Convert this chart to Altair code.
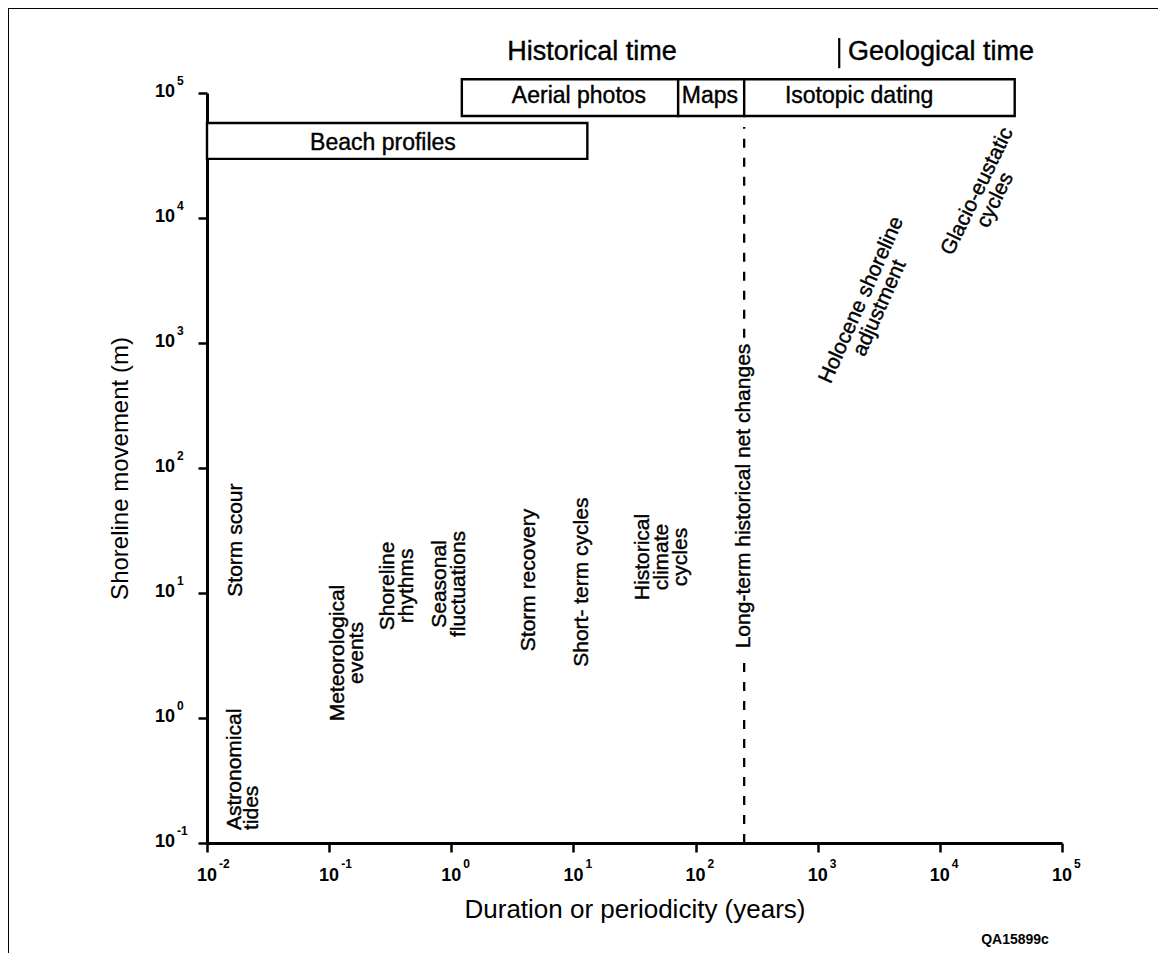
import altair as alt
import pandas as pd

FONT = "Liberation Sans"

# ---- axis ticks ----
x_tick_vals = [1e-2, 1e-1, 1e0, 1e1, 1e2, 1e3, 1e4, 1e5]
x_tick_exps = ["-2", "-1", "0", "1", "2", "3", "4", "5"]
y_tick_vals = [1e-1, 1e0, 1e1, 1e2, 1e3, 1e4, 1e5]
y_tick_exps = ["-1", "0", "1", "2", "3", "4", "5"]

# ---- method boxes ----
box_names = ["Beach profiles", "Aerial photos", "Maps", "Isotopic dating"]
box_x_start = [0.01, 1.22, 72, 250]
box_x_end = [13, 72, 250, 41000]
box_y_low = [29700, 65500, 65500, 65500]
box_y_high = [57500, 129000, 129000, 129000]
box_label_x = [0.276, 11.1, 131, 2180]
box_label_y = [35000, 83000, 83000, 83000]

# ---- vertical process labels (reading upward, centred; anchor = first line) ----
proc_text = ["Storm scour", "Meteorological\nevents", "Shoreline\nrhythms",
             "Seasonal\nfluctuations", "Storm recovery", "Short- term cycles",
             "Historical\nclimate\ncycles", "Long-term historical net changes"]
proc_x = [0.01727, 0.1182, 0.3034, 0.808, 4.33, 11.7, 37.2, 250]
proc_y = [26.5, 3.31, 11.4, 11.8, 12.7, 12.2, 19.4, 59.7]

# bottom-anchored label
astro_text = ["Astronomical\ntides"]
astro_x = [0.01694]
astro_y = [0.127]

# diagonal labels (anchor = first line centre)
holo_text = ["Holocene shoreline\nadjustment"]
holo_x = [2285]
holo_y = [2208]
glacio_text = ["Glacio-eustatic\ncycles"]
glacio_x = [20300]
glacio_y = [16300]

# long-term dashed line (period ~250 yr), split around its label
dash_x = [250, 250]
dash_y_low = [0.1, 1100]
dash_y_high = [2.9, 53500]

# time headings
head_text = ["Historical time", "Geological time"]
head_x = [14.2, 10230]
head_y = [184000, 184000]
sep_x = [1500]
sep_y_low = [158000]
sep_y_high = [275000]

xscale = alt.Scale(type="log", domain=[0.01, 1e5], nice=False)
yscale = alt.Scale(type="log", domain=[0.1, 1e5], nice=False)

xaxis = alt.Axis(values=x_tick_vals, labels=False, grid=False,
                 title="Duration or periodicity (years)",
                 titleFont=FONT, titleFontSize=26, titleFontWeight="normal",
                 titleColor="black", titleY=74, titleBaseline="alphabetic",
                 tickSize=9, tickWidth=2.5, tickColor="black",
                 domainWidth=3, domainColor="black")
yaxis = alt.Axis(values=y_tick_vals, labels=False, grid=False,
                 title="Shoreline movement (m)",
                 titleFont=FONT, titleFontSize=24, titleFontWeight="normal",
                 titleColor="black", titleAngle=270, titleX=-80, titleY=375,
                 titleBaseline="alphabetic", titleAlign="center",
                 tickSize=9, tickWidth=2.5, tickColor="black",
                 domainWidth=3, domainColor="black")


def X(f):
    return alt.X(f, type="quantitative", scale=xscale, axis=xaxis)


def Y(f):
    return alt.Y(f, type="quantitative", scale=yscale, axis=yaxis)


TXT = dict(font=FONT, color="black", stroke="black", strokeWidth=0.4)

boxes = pd.DataFrame({"name": box_names, "x0": box_x_start, "x1": box_x_end,
                      "y0": box_y_low, "y1": box_y_high,
                      "lx": box_label_x, "ly": box_label_y})
procs = pd.DataFrame({"t": proc_text, "x": proc_x, "y": proc_y})
astro = pd.DataFrame({"t": astro_text, "x": astro_x, "y": astro_y})
holo = pd.DataFrame({"t": holo_text, "x": holo_x, "y": holo_y})
glacio = pd.DataFrame({"t": glacio_text, "x": glacio_x, "y": glacio_y})
dashes = pd.DataFrame({"x": dash_x, "y0": dash_y_low, "y1": dash_y_high})
heads = pd.DataFrame({"t": head_text, "x": head_x, "y": head_y})
seps = pd.DataFrame({"x": sep_x, "y0": sep_y_low, "y1": sep_y_high})
xt = pd.DataFrame({"v": x_tick_vals, "e": x_tick_exps, "b": ["10"] * len(x_tick_vals)})
yt = pd.DataFrame({"v": y_tick_vals, "e": y_tick_exps, "b": ["10"] * len(y_tick_vals)})

rects = alt.Chart(boxes).mark_rect(fill="white", stroke="black", strokeWidth=2.4).encode(
    x=X("x0"), x2="x1", y=Y("y0"), y2="y1")
rect_labels = alt.Chart(boxes).mark_text(fontSize=23, baseline="alphabetic",
                                         align="center", **TXT).encode(
    x=X("lx"), y=Y("ly"), text="name:N")

dash_rules = alt.Chart(dashes).mark_rule(strokeDash=[9, 10], strokeWidth=2.3, color="black").encode(
    x=X("x"), y=Y("y0"), y2="y1")

proc_labels = alt.Chart(procs).mark_text(fontSize=21, angle=270, align="center",
                                         baseline="middle", lineBreak="\n", lineHeight=19,
                                         **TXT).encode(
    x=X("x"), y=Y("y"), text="t:N")
astro_labels = alt.Chart(astro).mark_text(fontSize=21, angle=270, align="left",
                                          baseline="middle", lineBreak="\n", lineHeight=17,
                                          **TXT).encode(
    x=X("x"), y=Y("y"), text="t:N")
holo_labels = alt.Chart(holo).mark_text(fontSize=21, angle=294, align="center",
                                        baseline="middle", lineBreak="\n", lineHeight=20,
                                        **TXT).encode(
    x=X("x"), y=Y("y"), text="t:N")
glacio_labels = alt.Chart(glacio).mark_text(fontSize=21, angle=296, align="center",
                                            baseline="middle", lineBreak="\n", lineHeight=20,
                                            **TXT).encode(
    x=X("x"), y=Y("y"), text="t:N")

head_labels = alt.Chart(heads).mark_text(fontSize=27, align="center",
                                         baseline="alphabetic", **TXT).encode(
    x=X("x"), y=Y("y"), text="t:N")
sep_rule = alt.Chart(seps).mark_rule(strokeWidth=2.2, color="black").encode(
    x=X("x"), y=Y("y0"), y2="y1")

xt_base = alt.Chart(xt).mark_text(font=FONT, fontSize=18, fontWeight="bold", align="right",
                                  baseline="alphabetic", dx=10, color="black").encode(
    x=X("v"), y=alt.value(788), text="b:N")
xt_exp = alt.Chart(xt).mark_text(font=FONT, fontSize=12, fontWeight="bold", align="left",
                                 baseline="alphabetic", dx=12, color="black").encode(
    x=X("v"), y=alt.value(775), text="e:N")
yt_base = alt.Chart(yt).mark_text(font=FONT, fontSize=18, fontWeight="bold", align="right",
                                  baseline="alphabetic", dy=4, color="black").encode(
    x=alt.value(-32), y=Y("v"), text="b:N")
yt_exp = alt.Chart(yt).mark_text(font=FONT, fontSize=12, fontWeight="bold", align="left",
                                 baseline="alphabetic", dy=-8, color="black").encode(
    x=alt.value(-30), y=Y("v"), text="e:N")

code_label = alt.Chart(pd.DataFrame({"t": ["QA15899c"]})).mark_text(
    font=FONT, fontSize=14, fontWeight="bold", align="center", baseline="middle",
    color="black").encode(x=alt.value(808), y=alt.value(847), text="t:N")

frame_top = alt.Chart(pd.DataFrame({"k": [0]})).mark_rule(strokeWidth=2, color="black").encode(
    x=alt.value(-199), x2=alt.value(951), y=alt.value(-85))
frame_left = alt.Chart(pd.DataFrame({"k": [0]})).mark_rule(strokeWidth=2, color="black").encode(
    x=alt.value(-199), y=alt.value(-85), y2=alt.value(860))

chart = alt.layer(
    rects, rect_labels, dash_rules, proc_labels, astro_labels, holo_labels, glacio_labels,
    head_labels, sep_rule, xt_base, xt_exp, yt_base, yt_exp, code_label, frame_top, frame_left
).properties(
    width=855, height=750,
    autosize=alt.AutoSizeParams(type="none"),
    padding={"left": 199, "top": 85, "right": 96, "bottom": 110},
    background="white",
).configure_view(stroke=None)

chart.save("out.html", embed_options={"renderer": "svg", "actions": False})
